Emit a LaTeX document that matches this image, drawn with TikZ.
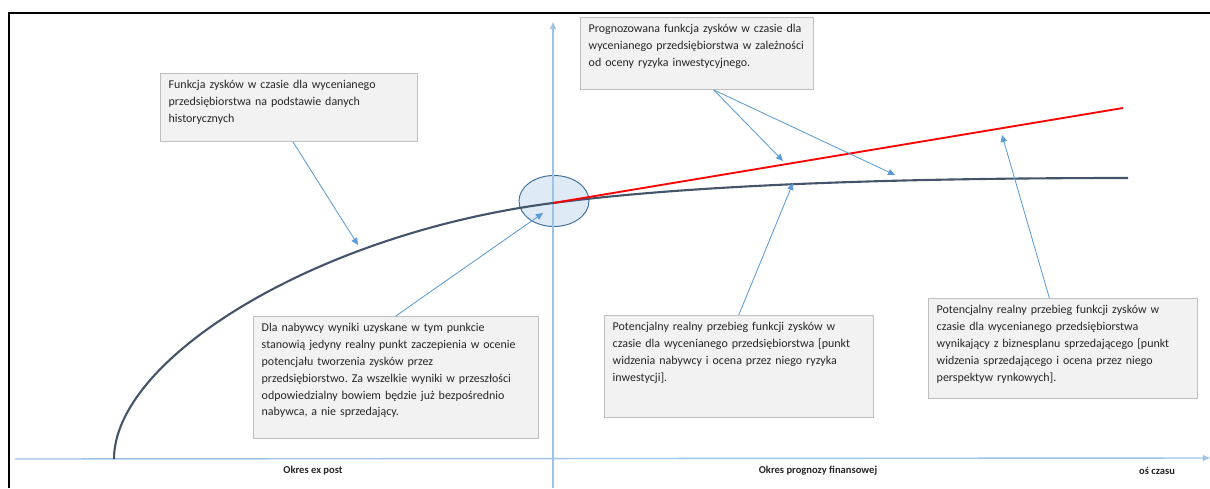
\documentclass[tikz,border=0pt]{standalone}
\usepackage{fontspec}
\setmainfont{Carlito}
\usetikzlibrary{arrows.meta}
\frenchspacing
\definecolor{boxfill}{HTML}{F2F2F2}
\definecolor{boxline}{HTML}{BFBFBF}
\definecolor{pointer}{HTML}{5B9BD5}
\definecolor{axisblue}{HTML}{9DC3E6}
\definecolor{profit}{HTML}{44546A}
\definecolor{ovalfill}{HTML}{DEEBF7}
\definecolor{ovalline}{HTML}{41719C}
\begin{document}
\begin{tikzpicture}[x=0.025cm, y=-0.025cm,
    note/.style={draw=boxline, fill=boxfill, anchor=north west, align=left,
      inner xsep=6pt, inner ysep=5pt, text=black!85, font=\fontsize{8.5}{12}\selectfont},
    ptr/.style={draw=pointer, line width=0.6pt, -{Triangle[length=5pt,width=4.5pt]}},
    axis/.style={draw=axisblue, line width=1pt, -{Triangle[length=5pt,width=4pt]}},
    lbl/.style={text=black!85, font=\fontsize{7.5}{9}\selectfont\bfseries}]
    \useasboundingbox (0,0) rectangle (1210,488);
    \draw[line width=1.2pt] (9,488) -- (9,13) -- (1210,13);

    \draw[draw=ovalline, fill=ovalfill, line width=0.7pt] (554,201) ellipse [x radius=35, y radius=25.5];

    \coordinate (x0) at (15,459);
    \coordinate (x1) at (1210,458);
    \coordinate (y0) at (553,488);
    \coordinate (y1) at (553,22);
    \draw[axis] (x0) -- (x1);
    \draw[axis] (y0) -- (y1);

    \coordinate (c0) at (114,459);
    \coordinate (c1) at (553,203);
    \coordinate (c2) at (1128,178);
    \coordinate (r1) at (1123,108);
    \draw[profit, line width=1.5pt] (c0) .. controls (114,360) and (313,234) .. (c1)
        .. controls (653,190) and (820,178) .. (c2);
    \draw[red, line width=1.3pt] (c1) -- (r1);

    \node[note, text width=6cm, text depth=1.15cm] (hist) at (160,73)
        {Funkcja zysków w czasie dla wycenianego\\przedsiębiorstwa na podstawie danych\\historycznych};
    \node[note, text width=5.4cm, text depth=1.25cm] (prog) at (580,17)
        {Prognozowana funkcja zysków w czasie dla\\wycenianego przedsiębiorstwa w zależności\\od oceny ryzyka inwestycyjnego.};
    \node[note, text width=6.7cm, text depth=2.48cm] (pkt) at (253,316)
        {Dla nabywcy wyniki uzyskane w tym punkcie\\stanowią jedyny realny punkt zaczepienia w ocenie\\potencjału tworzenia zysków przez\\przedsiębiorstwo. Za wszelkie wyniki w przeszłości\\odpowiedzialny bowiem będzie już bezpośrednio\\nabywca, a nie sprzedający.};
    \node[note, text width=6.3cm, text depth=1.98cm] (nab) at (604,315)
        {Potencjalny realny przebieg funkcji zysków w\\czasie dla wycenianego przedsiębiorstwa [punkt\\widzenia nabywcy i ocena przez niego ryzyka\\inwestycji].};
    \node[note, text width=6.3cm, text depth=1.93cm] (sprz) at (928,298)
        {Potencjalny realny przebieg funkcji zysków w\\czasie dla wycenianego przedsiębiorstwa\\wynikający z biznesplanu sprzedającego [punkt\\widzenia sprzedającego i ocena przez niego\\perspektyw rynkowych].};

    \coordinate (t1) at (358,245);
    \coordinate (t2) at (783,161);
    \coordinate (t3) at (895,175);
    \coordinate (t4) at (543,213);
    \coordinate (t5) at (793,183);
    \coordinate (t6) at (1002,135);
    \draw[ptr] (hist.-83) -- (t1);
    \draw[ptr] (prog.-65) -- (t2);
    \draw[ptr] (prog.-65) -- (t3);
    \draw[ptr] (pkt.north) -- (t4);
    \draw[ptr] (nab.north) -- (t5);
    \draw[ptr] (sprz.105) -- (t6);

    \node[lbl] (post) at (313,471) {Okres ex post};
    \node[lbl] (fin) at (818,471) {Okres prognozy finansowej};
    \node[lbl] (czas) at (1157,471) {oś czasu};
\end{tikzpicture}
\end{document}
